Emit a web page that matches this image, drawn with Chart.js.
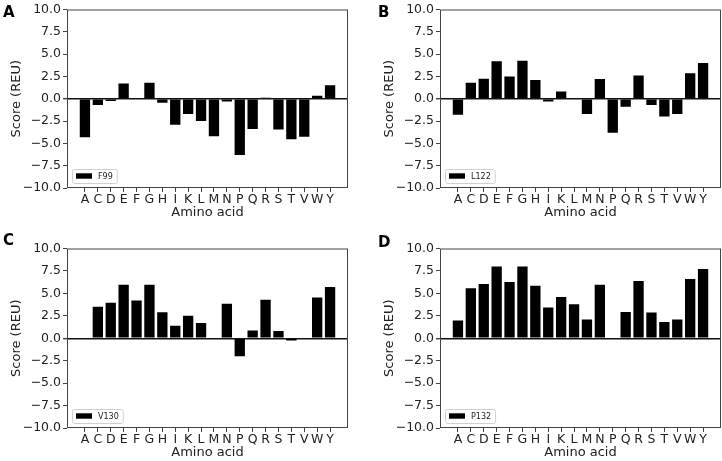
<!DOCTYPE html>
<html>
<head>
<meta charset="utf-8">
<script src="https://cdn.jsdelivr.net/npm/chart.js@4.4.1/dist/chart.umd.min.js"></script>
<style>
  body { margin: 0; width: 722px; height: 461px; overflow: hidden; background: #fff; position: relative; }
  canvas { position: absolute; }
  .letter { position: absolute; font-family: "DejaVu Sans", sans-serif; font-weight: bold; font-size: 15px; line-height: 15px; color: #000; }
</style>
</head>
<body>
<canvas id="chartA" width="349" height="230" style="left:0;top:0"></canvas>
<canvas id="chartB" width="349" height="230" style="left:373px;top:0"></canvas>
<canvas id="chartC" width="349" height="222" style="left:0;top:239px"></canvas>
<canvas id="chartD" width="349" height="222" style="left:373px;top:239px"></canvas>
<div class="letter" style="left:3px;top:5px">A</div>
<div class="letter" style="left:378px;top:5px">B</div>
<div class="letter" style="left:3px;top:233px">C</div>
<div class="letter" style="left:378px;top:235px">D</div>
<script>
const aminoAcids = ['A', 'C', 'D', 'E', 'F', 'G', 'H', 'I', 'K', 'L', 'M', 'N', 'P', 'Q', 'R', 'S', 'T', 'V', 'W', 'Y'];
const scoreTicks = [-10, -7.5, -5, -2.5, 0, 2.5, 5, 7.5, 10];

const f99 = [-4.3, -0.7, -0.25, 1.7, 0, 1.8, -0.45, -2.9, -1.7, -2.5, -4.2, -0.3, -6.3, -3.4, 0.1, -3.45, -4.55, -4.25, 0.33, 1.5];
const l122 = [-1.8, 1.8, 2.25, 4.2, 2.5, 4.25, 2.1, -0.3, 0.8, 0, -1.7, 2.2, -3.8, -0.9, 2.6, -0.7, -2.0, -1.7, 2.85, 4.0];
const v130 = [-0.07, 3.5, 3.95, 5.95, 4.2, 5.95, 2.9, 1.4, 2.5, 1.7, 0, 3.85, -2.0, 0.85, 4.3, 0.8, -0.25, 0, 4.55, 5.7];
const p132 = [1.97, 5.57, 6.05, 8.0, 6.27, 8.0, 5.85, 3.42, 4.6, 3.8, 2.08, 5.95, 0, 2.92, 6.38, 2.88, 1.8, 2.08, 6.6, 7.72];

// box around the axes, like matplotlib spines
const frame = {
  id: 'frame',
  afterDatasetsDraw(chart) {
    const { ctx, chartArea: a } = chart;
    ctx.save();
    ctx.strokeStyle = '#444';
    ctx.lineWidth = 1;
    ctx.strokeRect(a.left + 0.5, a.top + 0.5, a.right - a.left - 1, a.bottom - a.top - 1);
    ctx.restore();
  }
};

// small legend in the lower left corner of the axes
const insideLegend = {
  id: 'insideLegend',
  afterDraw(chart) {
    const { ctx, chartArea: a } = chart;
    const label = chart.data.datasets[0].label;
    ctx.save();
    ctx.font = '8px "DejaVu Sans"';
    const tw = ctx.measureText(label).width;
    const w = 4 + 16 + 6 + tw + 4;
    const h = 14;
    const x = a.left + 5;
    const y = a.bottom - 5 - h;
    ctx.beginPath();
    ctx.roundRect(x + 0.5, y + 0.5, w, h, 2);
    ctx.fillStyle = 'rgba(255,255,255,0.8)';
    ctx.fill();
    ctx.strokeStyle = '#d0d0d0';
    ctx.lineWidth = 1;
    ctx.stroke();
    ctx.fillStyle = '#000';
    ctx.fillRect(x + 4, y + h / 2 - 2.7, 16, 5.4);
    ctx.fillStyle = '#222';
    ctx.textBaseline = 'middle';
    ctx.fillText(label, x + 26, y + h / 2 + 0.5);
    ctx.restore();
  }
};

function drawPanel(canvasId, label, values, bottomPad) {
  const ctx = document.getElementById(canvasId).getContext('2d');
  new Chart(ctx, {
    type: 'bar',
    data: {
      datasets: [{
        label: label,
        data: values.map((v, i) => ({ x: i, y: v })),
        backgroundColor: '#000',
        borderWidth: 0,
        barPercentage: 1.0,
        categoryPercentage: 0.8
      }]
    },
    options: {
      responsive: false,
      animation: false,
      layout: { padding: { left: 0, right: 1, top: 7, bottom: bottomPad } },
      scales: {
        x: {
          type: 'linear',
          min: -1.39,
          max: 20.39,
          offset: false,
          afterFit: (s) => { s.height = 32; },
          afterBuildTicks: (axis) => { axis.ticks = aminoAcids.map((_, i) => ({ value: i })); },
          grid: { offset: false, drawOnChartArea: false, drawTicks: true, tickLength: 4, tickColor: '#444' },
          border: { display: false },
          ticks: {
            autoSkip: false,
            maxRotation: 0,
            padding: 0,
            color: '#222',
            font: { family: 'DejaVu Sans', size: 12.5 },
            callback: (v) => aminoAcids[v]
          },
          title: {
            display: true,
            text: 'Amino acid',
            color: '#222',
            padding: { top: 0, bottom: 0 },
            font: { family: 'DejaVu Sans', size: 13 }
          }
        },
        y: {
          min: -10,
          max: 10,
          afterFit: (s) => { s.width = 67; },
          afterBuildTicks: (axis) => { axis.ticks = scoreTicks.map((v) => ({ value: v })); },
          grid: {
            color: (c) => (c.tick && c.tick.value === 0 ? '#111' : 'rgba(0,0,0,0)'),
            lineWidth: (c) => (c.tick && c.tick.value === 0 ? 1.4 : 1),
            drawTicks: true,
            tickLength: 4,
            tickColor: '#444'
          },
          border: { display: false },
          ticks: {
            padding: 2,
            color: '#222',
            font: { family: 'DejaVu Sans', size: 12.5 },
            callback: (v) => (v < 0 ? '\u2212' : '') + Math.abs(v).toFixed(1)
          },
          title: {
            display: true,
            text: 'Score (REU)',
            color: '#222',
            padding: { top: 9, bottom: 0 },
            font: { family: 'DejaVu Sans', size: 13 }
          }
        }
      },
      plugins: {
        legend: { display: false },
        tooltip: { enabled: false }
      }
    },
    plugins: [frame, insideLegend]
  });
}

drawPanel('chartA', 'F99', f99, 10);
drawPanel('chartB', 'L122', l122, 10);
drawPanel('chartC', 'V130', v130, 1);
drawPanel('chartD', 'P132', p132, 1);
</script>
</body>
</html>
